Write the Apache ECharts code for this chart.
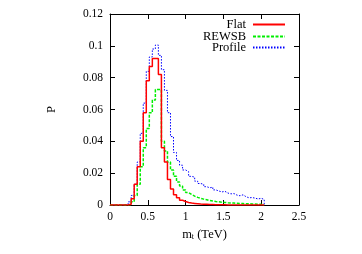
<!DOCTYPE html>
<html><head><meta charset="utf-8">
<script src="https://cdn.jsdelivr.net/npm/echarts@6/dist/echarts.min.js"></script>
<style>html,body{margin:0;padding:0;background:#fff}#c{width:362px;height:254px}</style>
</head><body><div id="c"></div>
<script>
var binEdges = [0,0.04,0.08,0.12,0.16,0.2,0.24,0.28,0.32,0.36,0.4,0.44,0.48,0.52,0.56,0.6,0.64,0.68,0.72,0.76,0.8,0.84,0.88,0.92,0.96,1.0,1.04,1.08,1.12,1.16,1.2,1.24,1.28,1.32,1.36,1.4,1.44,1.48,1.52,1.56,1.6,1.64,1.68,1.72,1.76,1.8,1.84,1.88,1.92,1.96,2.0,2.04];
var flat = [0,0,0,0,0,0,0.0005,0.004,0.013,0.024,0.040,0.058,0.078,0.087,0.092,0.092,0.082,0.036,0.027,0.016,0.010,0.0065,0.0045,0.003,0.0022,0.0016,0.0012,0.001,0.0008,0.0006,0.0005,0.0004,0.0003,0.0003,0.0002,0.0002,0.0001,0.0001,0,0,0,0,0,0,0,0,0,0,0,0,0];
var rewsb = [0,0,0,0,0,0,0.0003,0.002,0.006,0.013,0.024,0.036,0.048,0.058,0.066,0.0725,0.0725,0.040,0.034,0.027,0.022,0.018,0.0145,0.012,0.0095,0.0078,0.0066,0.0056,0.0048,0.0042,0.0037,0.0033,0.0028,0.0025,0.0022,0.002,0.0018,0.0016,0.0014,0.0013,0.0012,0.0011,0.001,0.0009,0.0008,0.0008,0.0007,0.0006,0.0005,0.0004,0];
var profile = [0,0,0,0,0,0.0003,0.002,0.006,0.013,0.027,0.045,0.064,0.084,0.093,0.098,0.1005,0.094,0.085,0.072,0.058,0.043,0.033,0.028,0.025,0.022,0.021,0.018,0.0175,0.015,0.0135,0.013,0.0115,0.0108,0.0112,0.0095,0.0088,0.0082,0.0086,0.0075,0.0070,0.0072,0.0062,0.0058,0.0064,0.0052,0.0045,0.0047,0.0043,0.0038,0.0042,0.0035];
var xTicks = ['0','0.5','1','1.5','2','2.5'];
var yTicks = ['0','0.02','0.04','0.06','0.08','0.1','0.12'];

function hist(vals){
  var d = vals.map(function(v,i){return [binEdges[i], v];});
  d.push([binEdges[vals.length], 0]);
  return d;
}
var F = 'Liberation Serif';
var chart = echarts.init(document.getElementById('c'));
var axisCommon = {
  axisLine:{show:true,onZero:false,lineStyle:{color:'#000',width:1}},
  axisTick:{show:true,inside:true,length:5,lineStyle:{color:'#000'}},
  splitLine:{show:false}
};
function legendFor(name, top){
  return {data:[name], right:76, top:top, align:'right', orient:'horizontal',
    itemWidth:32, itemHeight:10, itemGap:0, padding:0, selectedMode:false,
    itemStyle:{opacity:0},
    textStyle:{fontFamily:F, fontSize:12.5, color:'#000', padding:[0,2,0,0]}};
}
chart.setOption({
  animation:false,
  backgroundColor:'#fff',
  grid:{left:110,right:63,top:14,bottom:49},
  legend:[legendFor('Flat',18),legendFor('REWSB',30),legendFor('Profile',41)],
  xAxis:[
    Object.assign({type:'value',min:0,max:2.5,interval:0.5,position:'bottom',
      name:'{a|m}{b|t} (TeV)',nameLocation:'middle',nameGap:21,
      nameTextStyle:{fontFamily:F,fontSize:12.5,color:'#000',rich:{a:{fontFamily:F,fontSize:12.5,color:'#000'},b:{fontFamily:F,fontSize:8,color:'#000',verticalAlign:'bottom',padding:[6,0,0,0]}}},
      axisLabel:{fontFamily:F,fontSize:11.5,color:'#000',margin:6,formatter:function(v){return xTicks[Math.round(v/0.5)];}}},axisCommon),
    Object.assign({type:'value',min:0,max:2.5,interval:0.5,position:'top',axisLabel:{show:false}},axisCommon)
  ],
  yAxis:[
    Object.assign({type:'value',min:0,max:0.12,interval:0.02,position:'left',
      name:'P',nameLocation:'middle',nameGap:52,nameRotate:90,
      nameTextStyle:{fontFamily:F,fontSize:12.5,color:'#000'},
      axisLabel:{fontFamily:F,fontSize:11.5,color:'#000',margin:7,formatter:function(v){return yTicks[Math.round(v/0.02)];}}},axisCommon),
    Object.assign({type:'value',min:0,max:0.12,interval:0.02,position:'right',axisLabel:{show:false}},axisCommon)
  ],
  series:[
    {name:'Flat',type:'line',step:'end',symbol:'none',data:hist(flat),z:5,
      lineStyle:{color:'#ff0000',width:1.5,type:'solid'},itemStyle:{color:'#ff0000'}},
    {name:'REWSB',type:'line',step:'end',symbol:'none',data:hist(rewsb),z:4,
      lineStyle:{color:'#00ee00',width:1.5,type:[3,1.5]},itemStyle:{color:'#00ee00'}},
    {name:'Profile',type:'line',step:'end',symbol:'none',data:hist(profile),z:3,
      lineStyle:{color:'#0000ff',width:1,type:[1.5,1.5]},itemStyle:{color:'#0000ff'}}
  ]
});
</script></body></html>
